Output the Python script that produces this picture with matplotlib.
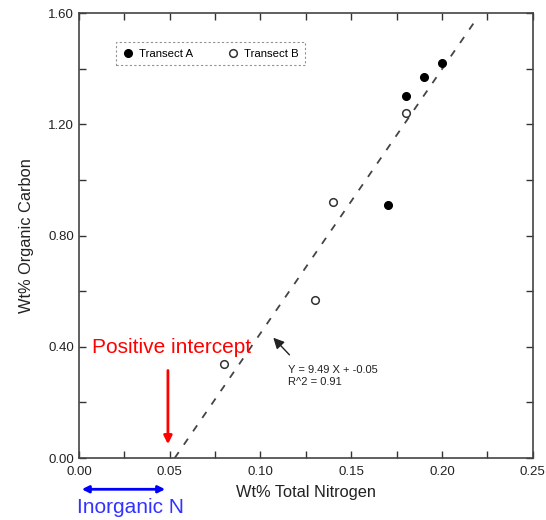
import matplotlib.pyplot as plt
from matplotlib.ticker import MultipleLocator, FormatStrFormatter

plt.rcParams['font.family'] = ['Liberation Sans', 'DejaVu Sans']

# nitrogen vs organic carbon for the two transects
transect_a_n = [0.200, 0.190, 0.180, 0.170]
transect_a_c = [1.42, 1.37, 1.30, 0.91]
transect_b_n = [0.180, 0.140, 0.130, 0.080]
transect_b_c = [1.24, 0.92, 0.57, 0.34]

# regression line as drawn
slope = 9.49
intercept = -0.50
fit_x = [0.0527, 0.2187]
fit_y = [slope * x + intercept for x in fit_x]

fig = plt.figure(figsize=(5.46, 5.2), dpi=100)
ax = fig.add_axes([0.1447, 0.119, 0.831, 0.856])

ax.plot(fit_x, fit_y, color='#444444', lw=1.3, linestyle=(0, (4, 5)))
ax.plot(transect_a_n, transect_a_c, 'o', color='black', ms=5.5, label='Transect A')
ax.plot(transect_b_n, transect_b_c, 'o', mfc='white', mec='#333333', mew=1.1, ms=5.5,
        label='Transect B')

ax.set_xlim(0, 0.25)
ax.set_ylim(0, 1.60)
ax.xaxis.set_major_locator(MultipleLocator(0.05))
ax.xaxis.set_minor_locator(MultipleLocator(0.025))
ax.yaxis.set_major_locator(MultipleLocator(0.40))
ax.yaxis.set_minor_locator(MultipleLocator(0.20))
ax.xaxis.set_major_formatter(FormatStrFormatter('%.2f'))
ax.yaxis.set_major_formatter(FormatStrFormatter('%.2f'))
ax.tick_params(which='both', direction='in', top=True, right=True, length=5,
               width=1, colors='#333333', labelcolor='#222222', labelsize=9.5)
ax.tick_params(axis='x', pad=6)
for s in ax.spines.values():
    s.set_color('#444444')
    s.set_linewidth(1.2)

ax.set_xlabel('Wt% Total Nitrogen', fontsize=11.8, color='#222222', labelpad=5)
ax.set_ylabel('Wt% Organic Carbon', fontsize=11.8, color='#222222', labelpad=10)

leg = ax.legend(loc='upper left', bbox_to_anchor=(0.068, 0.947), ncol=2, fontsize=8.2,
                frameon=True, fancybox=False, handletextpad=0.5, columnspacing=3.0,
                borderpad=0.55, handlelength=1.0)
leg.get_frame().set_edgecolor('#777777')
leg.get_frame().set_linestyle((0, (2, 2)))
leg.get_frame().set_linewidth(0.8)

# fit annotation
ax.annotate('', xy=(0.106, 0.44), xytext=(0.117, 0.364),
            arrowprops=dict(arrowstyle='-|>', color='#222222', lw=1, mutation_scale=16))
ax.text(0.115, 0.335, 'Y = 9.49 X + -0.05\nR^2 = 0.91', fontsize=8, color='#222222',
        va='top', ha='left', linespacing=1.2)

# intercept callout
ax.text(0.007, 0.396, 'Positive intercept', color='red', fontsize=15, va='center', ha='left')
ax.annotate('', xy=(0.049, 0.04), xytext=(0.049, 0.325),
            arrowprops=dict(arrowstyle='-|>', color='red', lw=2, mutation_scale=12))

ax.annotate('', xy=(0.0, -0.112), xytext=(0.049, -0.112), annotation_clip=False,
            arrowprops=dict(arrowstyle='<|-|>', color='blue', lw=2, mutation_scale=10))
ax.text(0.0285, -0.177, 'Inorganic N', color='#3333ff', fontsize=15, va='center',
        ha='center', clip_on=False)

fig.savefig('out.png', dpi=100)
